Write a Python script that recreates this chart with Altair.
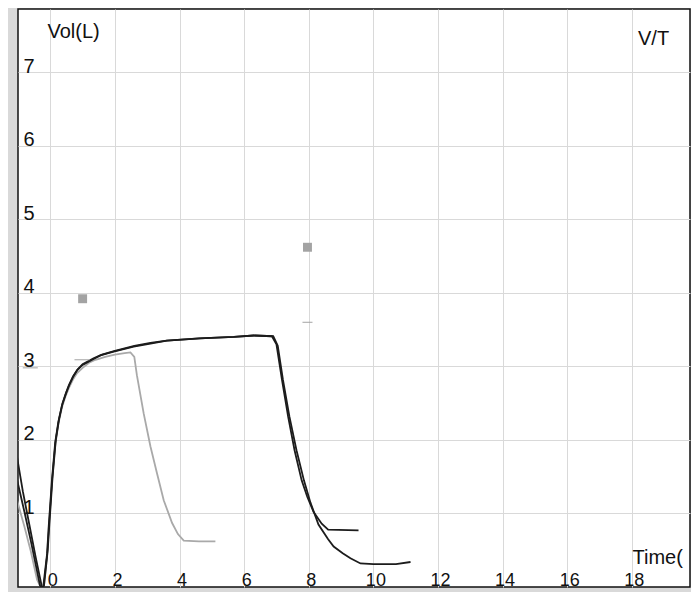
import altair as alt
import pandas as pd

# ---- data ----
t1 = [-1.03, -0.8, -0.6, -0.41, -0.3, -0.2, -0.1, -0.05, 0.05, 0.15, 0.25, 0.36, 0.47, 0.57, 0.7,
      0.83, 1.0, 1.2, 1.4, 1.7, 2.0, 2.3, 2.48, 2.6, 2.68, 2.89, 3.1, 3.3, 3.51, 3.77, 3.95, 4.13, 4.6, 5.11]
v1 = [1.18, 0.82, 0.48, 0.1, 0.0, 0.0, 0.42, 0.78, 1.42, 1.92, 2.22, 2.44, 2.59, 2.7, 2.82,
      2.91, 2.98, 3.05, 3.09, 3.13, 3.16, 3.18, 3.19, 3.13, 2.88, 2.36, 1.91, 1.55, 1.18, 0.87, 0.72, 0.63, 0.62, 0.62]

t2 = [-1.03, -0.8, -0.6, -0.45, -0.31, -0.22, -0.1, -0.05, 0.05, 0.15, 0.25, 0.36, 0.47, 0.57, 0.7,
      0.83, 1.0, 1.34, 1.55, 1.96, 2.58, 3.1, 3.61, 4.64, 5.67, 6.3, 6.86,
      7.0, 7.17, 7.36, 7.56, 7.78, 7.95, 8.15, 8.4, 8.6, 9.54]
v2 = [1.46, 1.02, 0.62, 0.3, 0.0, 0.0, 0.45, 0.82, 1.45, 1.96, 2.25, 2.47, 2.62, 2.74, 2.86,
      2.95, 3.02, 3.10, 3.15, 3.2, 3.27, 3.31, 3.35, 3.38, 3.40, 3.42, 3.41,
      3.3, 2.82, 2.32, 1.86, 1.45, 1.23, 1.02, 0.86, 0.78, 0.77]

t3 = [-1.03, -0.85, -0.65, -0.45, -0.26, -0.2, -0.08, -0.03, 0.07, 0.17, 0.27, 0.38, 0.5, 0.6, 0.72,
      0.85, 1.0, 1.34, 1.6, 2.0, 2.6, 3.1, 3.6, 4.6, 5.7, 6.3, 6.9,
      7.04, 7.2, 7.4, 7.62, 7.85, 8.05, 8.3, 8.6, 8.77, 9.05, 9.29, 9.6, 10.0, 10.3, 10.7, 11.15]
v3 = [1.77, 1.3, 0.85, 0.4, 0.0, 0.0, 0.5, 0.85, 1.5, 2.0, 2.28, 2.5, 2.65, 2.76, 2.87,
      2.96, 3.03, 3.11, 3.16, 3.21, 3.28, 3.32, 3.35, 3.38, 3.40, 3.42, 3.41,
      3.28, 2.82, 2.32, 1.86, 1.45, 1.15, 0.85, 0.65, 0.55, 0.46, 0.39, 0.32, 0.31, 0.31, 0.31, 0.34]

pred_t = [1.0, 7.96]
pred_v = [3.92, 4.62]
dash_t = [0.98, 7.96, -0.62]
dash_v = [3.09, 3.60, 2.98]
dash_len = [15, 10, 15]
dash_w = [2.5, 2, 4]

x_ticks = list(range(0, 20))
y_ticks = [1, 2, 3, 4, 5, 6, 7]

rows = []
for name, ts, vs in [("t1", t1, v1), ("t2", t2, v2), ("t3", t3, v3)]:
    for i, (a, b) in enumerate(zip(ts, vs)):
        rows.append({"trial": name, "t": a, "v": b, "i": i})
curves = pd.DataFrame(rows)
preds = pd.DataFrame({"t": pred_t, "v": pred_v})
dashes = pd.DataFrame({"t": dash_t, "v": dash_v, "len": dash_len, "w": dash_w})

FONT = "Liberation Sans"

xs = alt.Scale(domain=[-1, 19.8], nice=False, zero=False)
ys = alt.Scale(domain=[0, 7.86], nice=False, zero=False)

x_axis = alt.Axis(values=x_ticks, grid=True, gridColor="#d9d9d9", gridWidth=1,
                  domain=False, ticks=False, tickSize=0, format="d",
                  labelExpr="datum.value % 2 == 0 ? datum.label : ''",
                  labelBaseline="alphabetic", labelPadding=-2, labelOffset=2,
                  labelFont=FONT, labelFontSize=18, labelColor="#111",
                  title="Time(", titleX=614, titleY=-24, titleAlign="left",
                  titleBaseline="alphabetic", titleFont=FONT, titleFontSize=20,
                  titleFontWeight="normal", titleColor="#111", labelFlush=False,
                  labelOverlap=False)
y_axis = alt.Axis(values=y_ticks, grid=True, gridColor="#d9d9d9", gridWidth=1,
                  domain=False, ticks=False, tickSize=0, format="d",
                  labelAlign="left", labelBaseline="alphabetic", labelPadding=-5,
                  labelFont=FONT, labelFontSize=20, labelColor="#111",
                  title="Vol(L)", titleX=29, titleY=28, titleAngle=0,
                  titleAlign="left", titleBaseline="alphabetic",
                  titleFont=FONT, titleFontSize=20, titleFontWeight="normal",
                  titleColor="#111", labelFlush=False, labelOverlap=False)

base = alt.Chart(curves).encode(
    x=alt.X("t:Q", scale=xs, axis=x_axis),
    y=alt.Y("v:Q", scale=ys, axis=y_axis),
)

lines = base.mark_line(strokeWidth=1.8, clip=True).encode(
    detail="trial:N",
    order="i:Q",
    color=alt.Color("trial:N", legend=None,
                    scale=alt.Scale(domain=["t1", "t2", "t3"],
                                    range=["#a9a9a9", "#1c1c1c", "#1c1c1c"])),
)

squares = alt.Chart(preds).mark_square(size=80, color="#a3a3a3", opacity=1).encode(
    x=alt.X("t:Q", scale=xs), y=alt.Y("v:Q", scale=ys))

ticks = alt.Chart(dashes).mark_tick(orient="horizontal", color="#a3a3a3", opacity=1).encode(
    x=alt.X("t:Q", scale=xs), y=alt.Y("v:Q", scale=ys),
    size=alt.Size("len:Q", scale=None, legend=None),
    strokeWidth=alt.StrokeWidth("w:Q", scale=None, legend=None),
)

vt = alt.Chart(pd.DataFrame({"s": ["V/T"]})).mark_text(
    font=FONT, fontSize=20, align="left", baseline="alphabetic", color="#111"
).encode(text="s:N", x=alt.value(620), y=alt.value(36))

chart = alt.layer(lines, squares, ticks, vt).properties(
    width=672, height=578,
    padding={"left": 10, "top": 1, "right": 1, "bottom": 5},
    autosize=alt.AutoSizeParams(type="none"),
    background="#d9d9d9",
).configure_view(fill="white", stroke="#111", strokeWidth=1.5)

chart.save("out.html", embed_options={"renderer": "svg", "actions": False})
